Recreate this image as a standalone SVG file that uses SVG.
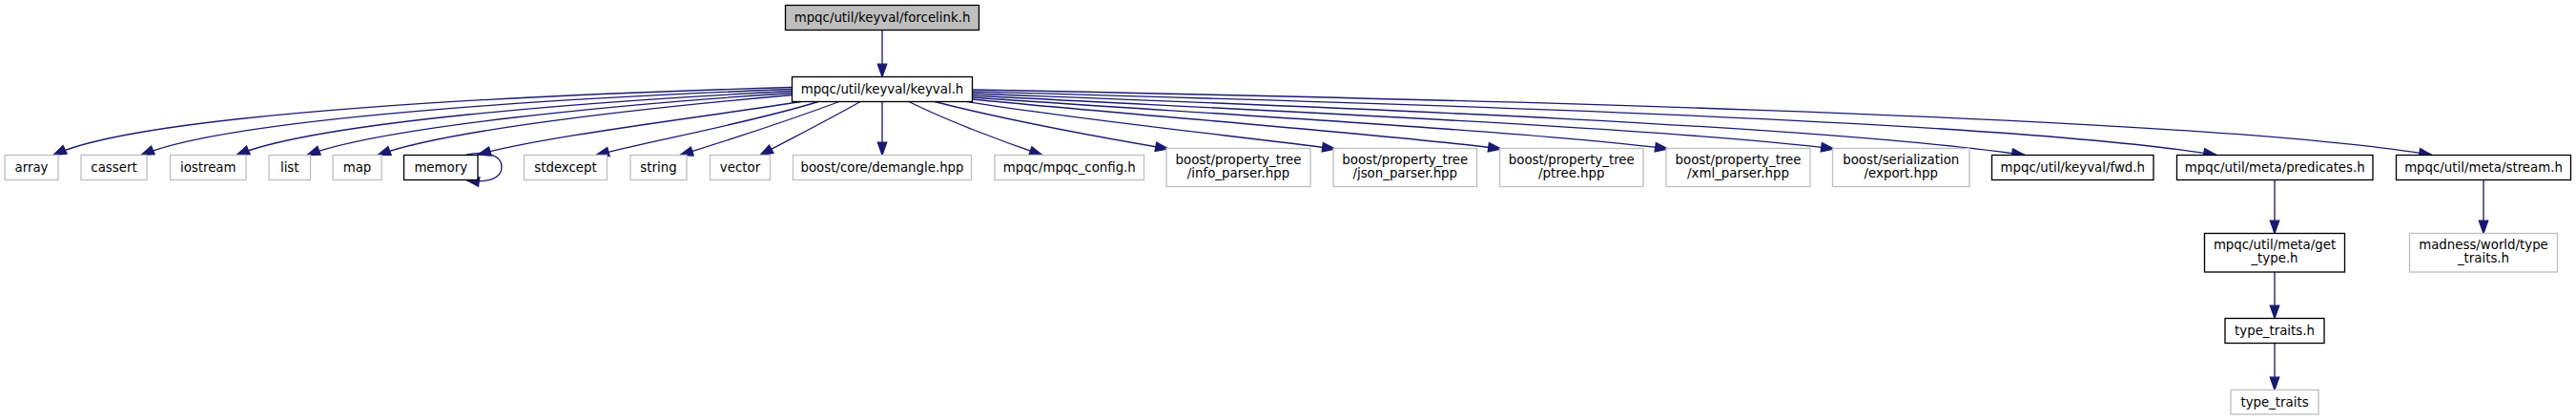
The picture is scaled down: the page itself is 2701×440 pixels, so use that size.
<svg xmlns="http://www.w3.org/2000/svg" width="2701" height="440" viewBox="0 0 2701 440">
<style>
  text { font-family: "DejaVu Sans", "Liberation Sans", sans-serif; font-size: 13.33px; fill: #000; text-anchor: middle; }
  .doc { fill: #fff; stroke: #000; stroke-width: 1.33; }
  .ext { fill: #fff; stroke: #bfbfbf; stroke-width: 1.33; }
  .root { fill: #bfbfbf; stroke: #000; stroke-width: 1.33; }
  #edges path { fill: none; stroke: #191970; stroke-width: 1.33; marker-end: url(#ah); }
</style>
<defs>
  <marker id="ah" markerUnits="userSpaceOnUse" markerWidth="16" markerHeight="12" refX="13.33" refY="4.67" orient="auto" overflow="visible">
    <path d="M0,0 L13.33,4.67 L0,9.33 z" fill="#191970" stroke="#191970" stroke-width="1.33"/>
  </marker>
</defs>
<rect width="2701" height="440" fill="#fff"/>
<g id="edges">
  <path d="M925,31.5 L925,80.5"/>
  <path d="M830.5,91.5 C 560,99 150,118 56,162.5"/>
  <path d="M830.5,93.5 C 580,103 240,124 148,162.5"/>
  <path d="M830.5,95.5 C 620,106 330,128 248,162.5"/>
  <path d="M830.5,97.5 C 650,109 400,133 322,162.5"/>
  <path d="M830.5,99.5 C 690,112 470,135 396,162.5"/>
  <path d="M840,106.5 C 720,125 570,143 501,162"/>
  <path d="M488,162.5 C 510,157 526,163 526,175 C 526,187 512,192 489,188.5"/>
  <path d="M858,106.5 C 790,128 680,148 625,162.5"/>
  <path d="M880,106.5 C 830,125 760,148 713,162.5"/>
  <path d="M902,106.5 C 870,125 820,150 797,162.5"/>
  <path d="M925,106.5 L925,162.5"/>
  <path d="M953,106.5 C 990,125 1050,148 1093,162.5"/>
  <path d="M980,106.5 C 1060,127 1160,145 1225,156"/>
  <path d="M1014,106.5 C 1120,124 1300,143 1400,156"/>
  <path d="M1019.5,104 C 1180,120 1450,140 1574,156"/>
  <path d="M1019.5,102 C 1230,117 1600,137 1749,156"/>
  <path d="M1019.5,100 C 1280,114 1750,134 1923,156"/>
  <path d="M1019.5,98 C 1330,110 1900,130 2123,162.5"/>
  <path d="M1019.5,96 C 1380,106 2100,125 2324,162.5"/>
  <path d="M1019.5,94 C 1430,102 2300,120 2550,162.5"/>
  <path d="M2385,188.5 L2385,244.5"/>
  <path d="M2385,285 L2385,333.5"/>
  <path d="M2385,359.5 L2385,408.5"/>
  <path d="M2604,188.5 L2604,244.5"/>
</g>
<g id="n_forcelink"><rect class="root" x="823.5" y="5.5" width="203" height="26"/><text x="925" y="22.5">mpqc/util/keyval/forcelink.h</text></g>
<g id="n_keyval"><rect class="doc" x="830.5" y="80.5" width="189" height="26"/><text x="925" y="97.5">mpqc/util/keyval/keyval.h</text></g>
<g id="n_array"><rect class="ext" x="5" y="162.5" width="56" height="26"/><text x="33" y="179.5">array</text></g>
<g id="n_cassert"><rect class="ext" x="85" y="162.5" width="69" height="26"/><text x="119.5" y="179.5">cassert</text></g>
<g id="n_iostream"><rect class="ext" x="178.5" y="162.5" width="79.5" height="26"/><text x="218.25" y="179.5">iostream</text></g>
<g id="n_list"><rect class="ext" x="282" y="162.5" width="43.5" height="26"/><text x="303.75" y="179.5">list</text></g>
<g id="n_map"><rect class="ext" x="349" y="162.5" width="51" height="26"/><text x="374.5" y="179.5">map</text></g>
<g id="n_memory"><rect class="doc" x="423.5" y="162.5" width="77.5" height="26"/><text x="462.25" y="179.5">memory</text></g>
<g id="n_stdexcept"><rect class="ext" x="549.5" y="162.5" width="87" height="26"/><text x="593" y="179.5">stdexcept</text></g>
<g id="n_string"><rect class="ext" x="661" y="162.5" width="59" height="26"/><text x="690.5" y="179.5">string</text></g>
<g id="n_vector"><rect class="ext" x="744.5" y="162.5" width="63" height="26"/><text x="776" y="179.5">vector</text></g>
<g id="n_demangle"><rect class="ext" x="831.5" y="162.5" width="187" height="26"/><text x="925" y="179.5">boost/core/demangle.hpp</text></g>
<g id="n_config"><rect class="ext" x="1043" y="162.5" width="156.5" height="26"/><text x="1121.25" y="179.5">mpqc/mpqc_config.h</text></g>
<g id="n_info"><rect class="ext" x="1223" y="155.5" width="151" height="40"/><text x="1298.5" y="172">boost/property_tree</text><text x="1298.5" y="186">/info_parser.hpp</text></g>
<g id="n_json"><rect class="ext" x="1398" y="155.5" width="150.5" height="40"/><text x="1473.25" y="172">boost/property_tree</text><text x="1473.25" y="186">/json_parser.hpp</text></g>
<g id="n_ptree"><rect class="ext" x="1572.5" y="155.5" width="150.5" height="40"/><text x="1647.75" y="172">boost/property_tree</text><text x="1647.75" y="186">/ptree.hpp</text></g>
<g id="n_xml"><rect class="ext" x="1747" y="155.5" width="151" height="40"/><text x="1822.5" y="172">boost/property_tree</text><text x="1822.5" y="186">/xml_parser.hpp</text></g>
<g id="n_export"><rect class="ext" x="1921.5" y="155.5" width="143.5" height="40"/><text x="1993.25" y="172">boost/serialization</text><text x="1993.25" y="186">/export.hpp</text></g>
<g id="n_fwd"><rect class="doc" x="2088.5" y="162.5" width="169.5" height="26"/><text x="2173.25" y="179.5">mpqc/util/keyval/fwd.h</text></g>
<g id="n_predicates"><rect class="doc" x="2282.5" y="162.5" width="205.5" height="26"/><text x="2385.25" y="179.5">mpqc/util/meta/predicates.h</text></g>
<g id="n_stream"><rect class="doc" x="2512.5" y="162.5" width="183" height="26"/><text x="2604" y="179.5">mpqc/util/meta/stream.h</text></g>
<g id="n_gettype"><rect class="doc" x="2311.5" y="244.5" width="147" height="40.5"/><text x="2385" y="261">mpqc/util/meta/get</text><text x="2385" y="275">_type.h</text></g>
<g id="n_madness"><rect class="ext" x="2526.5" y="244.5" width="155" height="40.5"/><text x="2604" y="261">madness/world/type</text><text x="2604" y="275">_traits.h</text></g>
<g id="n_typetraitsh"><rect class="doc" x="2333" y="333.5" width="104" height="26"/><text x="2385" y="350.5">type_traits.h</text></g>
<g id="n_typetraits"><rect class="ext" x="2339" y="408.5" width="92" height="25.5"/><text x="2385" y="425.5">type_traits</text></g>
</svg>
